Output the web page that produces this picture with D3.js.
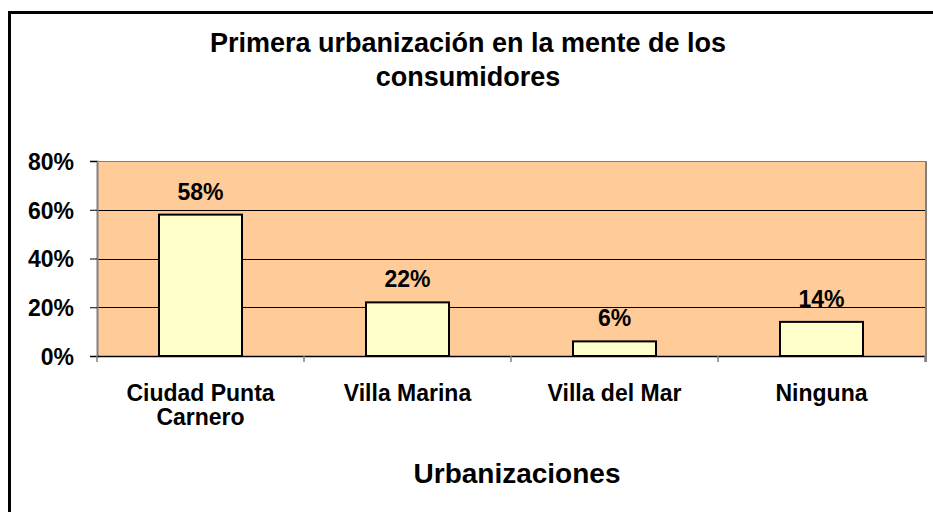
<!DOCTYPE html>
<html><head><meta charset="utf-8">
<script src="https://cdn.jsdelivr.net/npm/d3@7"></script>
<style>html,body{margin:0;padding:0;background:#fff;overflow:hidden}</style>
</head><body>
<script>
const categories = [["Ciudad Punta","Carnero"],["Villa Marina"],["Villa del Mar"],["Ninguna"]];
const values = [0.58, 0.22, 0.06, 0.14];
const valueLabels = ["58%","22%","6%","14%"];
const yTicks = [0, 0.2, 0.4, 0.6, 0.8];
const titleLines = ["Primera urbanización en la mente de los","consumidores"];
const xTitle = "Urbanizaciones";

(function () {
const W = 933, H = 512;
const FONT = "'Liberation Sans', Arial, sans-serif";
const svg = d3.select("body").append("svg").attr("width", W).attr("height", H)
  .style("font-family", FONT).style("font-weight", "bold");

svg.append("rect").attr("x", 9.5).attr("y", 12.5).attr("width", 1000).attr("height", 600)
  .attr("fill", "#fff").attr("stroke", "#000").attr("stroke-width", 3);

const pL = 97, pR = 925, pT = 161, pB = 356;
const x = d3.scaleBand().domain(d3.range(categories.length)).range([pL, pR]).paddingInner(0).paddingOuter(0);
const y = d3.scaleLinear().domain([0, 0.8]).range([pB, pT]);

svg.append("rect").attr("x", pL).attr("y", pT).attr("width", pR - pL).attr("height", pB - pT)
  .attr("fill", "#FFCC99");

// gridlines
svg.append("g").selectAll("line").data(yTicks.filter(d => d > 0 && d < 0.8)).join("line")
  .attr("x1", pL).attr("x2", pR).attr("y1", d => Math.round(y(d)) + 0.5).attr("y2", d => Math.round(y(d)) + 0.5)
  .attr("stroke", "#000").attr("stroke-width", 1);

// plot border top/right
svg.append("line").attr("x1", pL).attr("x2", pR + 1).attr("y1", pT + 0.5).attr("y2", pT + 0.5).attr("stroke", "#808080").attr("stroke-width", 1);
svg.append("line").attr("x1", pR + 1).attr("x2", pR + 1).attr("y1", pT).attr("y2", pB + 6).attr("stroke", "#808080").attr("stroke-width", 2);

// bars
const bw = 83;
svg.append("g").selectAll("rect").data(values).join("rect")
  .attr("x", (d, i) => x(i) + x.bandwidth() / 2 - bw / 2)
  .attr("y", d => y(d))
  .attr("width", bw)
  .attr("height", d => pB - y(d))
  .attr("fill", "#FFFFCC").attr("stroke", "#000").attr("stroke-width", 2);

// value labels
svg.append("g").selectAll("text").data(values).join("text")
  .attr("x", (d, i) => x(i) + x.bandwidth() / 2)
  .attr("y", d => y(d) - 15)
  .attr("text-anchor", "middle").attr("font-size", 23).attr("fill", "#000")
  .text((d, i) => valueLabels[i]);

// y axis
const yAxis = d3.axisLeft(y).tickValues(yTicks).tickFormat(d3.format(".0%")).tickSize(7).tickPadding(16);
const gy = svg.append("g").attr("transform", `translate(${pL},0)`).call(yAxis);
gy.select(".domain").attr("stroke", "#808080").attr("stroke-width", 2);
gy.selectAll(".tick line").attr("stroke", "#000");
gy.selectAll(".tick text").attr("font-size", 23).attr("font-family", FONT)
  .attr("font-weight", "bold").attr("fill", "#000").attr("dy", "0.36em");

// x axis
svg.append("line").attr("x1", pL).attr("x2", pR).attr("y1", pB + 0.5).attr("y2", pB + 0.5).attr("stroke", "#000").attr("stroke-width", 1.5);
svg.append("g").selectAll("line").data(d3.range(categories.length + 1)).join("line")
  .attr("x1", i => i < categories.length ? x(i) : pR).attr("x2", i => i < categories.length ? x(i) : pR)
  .attr("y1", pB).attr("y2", pB + 6).attr("stroke", "#808080").attr("stroke-width", 1.5);

const cat = svg.append("g").selectAll("text").data(categories).join("text")
  .attr("x", (d, i) => x(i) + x.bandwidth() / 2)
  .attr("y", 401)
  .attr("text-anchor", "middle").attr("font-size", 23).attr("fill", "#000");
cat.selectAll("tspan").data(d => d).join("tspan")
  .attr("x", function () { return d3.select(this.parentNode).attr("x"); })
  .attr("dy", (d, j) => j === 0 ? 0 : 24)
  .text(d => d);

// titles
svg.append("g").selectAll("text").data(titleLines).join("text")
  .attr("x", 468).attr("y", (d, i) => 52 + i * 34)
  .attr("text-anchor", "middle").attr("font-size", 27).attr("fill", "#000").text(d => d);

svg.append("text").attr("x", 517).attr("y", 483).attr("text-anchor", "middle")
  .attr("font-size", 28).attr("fill", "#000").text(xTitle);
})();
</script>
</body></html>
